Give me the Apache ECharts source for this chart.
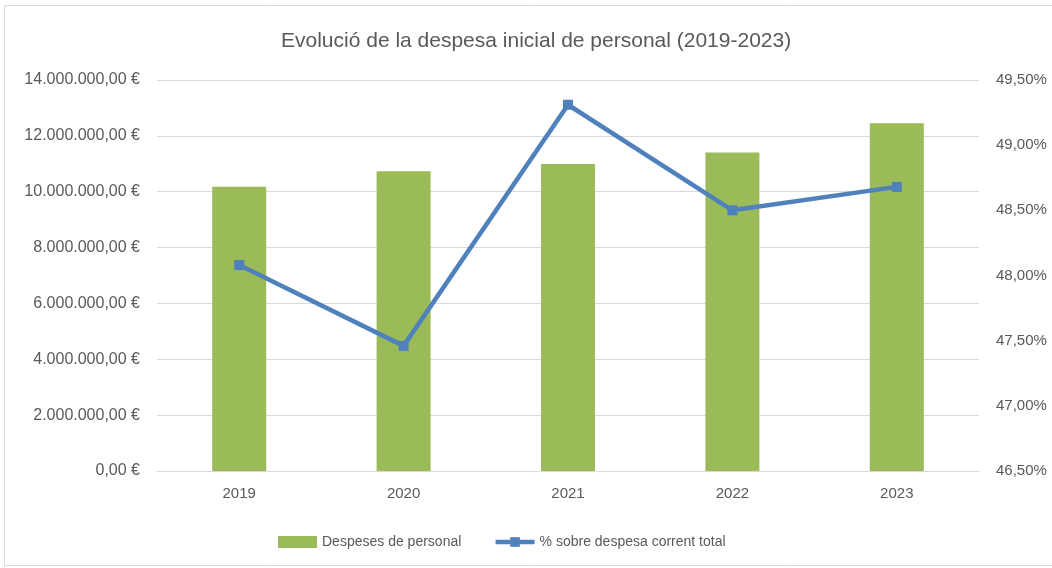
<!DOCTYPE html>
<html>
<head>
<meta charset="utf-8">
<script src="https://cdn.jsdelivr.net/npm/echarts@6/dist/echarts.min.js"></script>
<style>
  html, body { margin: 0; padding: 0; background: #fff; }
  #chart { width: 1052px; height: 568px; }
</style>
</head>
<body>
<div id="chart"></div>
<script>
// dades
const years = ['2019', '2020', '2021', '2022', '2023']
const despeses = [10180000, 10730000, 10990000, 11400000, 12450000]   // €
const percent = [48.08, 47.46, 49.31, 48.50, 48.68]                 // %
const labelColor = '#595959'

// 14000000 -> "14.000.000,00 €"
function euro(v) {
  const s = Math.round(v).toString().replace(/\B(?=(\d{3})+(?!\d))/g, '.')
  return s + ',00 €'
}
function pct(v) {
  return v.toFixed(2).replace('.', ',') + '%'
}

const chart = echarts.init(document.getElementById('chart'))
chart.setOption({
  animation: false,
  textStyle: { fontFamily: 'Liberation Sans, Arial, sans-serif' },
  title: {
    text: 'Evolució de la despesa inicial de personal (2019-2023)',
    left: 276,
    top: 26,
    textStyle: { fontSize: 21, fontWeight: 'normal', color: labelColor }
  },
  graphic: [{
    type: 'rect',
    shape: { x: 4.5, y: 5.5, width: 1060, height: 560 },
    style: { fill: 'none', stroke: '#d9d9d9', lineWidth: 1 },
    silent: true
  }],
  legend: {
    top: 530,
    left: 273,
    itemGap: 32,
    textStyle: { fontSize: 14, color: labelColor },
    data: [
      { name: 'Despeses de personal', icon: 'rect', itemStyle: { color: '#9bbb59' } },
      { name: '% sobre despesa corrent total', lineStyle: { width: 4.5, color: '#4f81bd' } }
    ],
    itemWidth: 39,
    itemHeight: 12
  },
  grid: { left: 157, right: 73, top: 80, bottom: 97, containLabel: false },
  xAxis: {
    type: 'category',
    data: years,
    axisLine: { lineStyle: { color: '#d9d9d9', width: 1 } },
    axisTick: { show: false },
    axisLabel: { color: labelColor, fontSize: 15, margin: 15 }
  },
  yAxis: [{
    type: 'value',
    min: 0,
    max: 14000000,
    interval: 2000000,
    axisLine: { show: false },
    axisTick: { show: false },
    splitLine: { lineStyle: { color: '#d9d9d9', width: 1 } },
    axisLabel: { color: labelColor, fontSize: 16, margin: 17, formatter: euro }
  }, {
    type: 'value',
    min: 46.5,
    max: 49.5,
    interval: 0.5,
    axisLine: { show: false },
    axisTick: { show: false },
    splitLine: { show: false },
    axisLabel: { color: labelColor, fontSize: 15, margin: 17, formatter: pct }
  }],
  series: [{
    name: 'Despeses de personal',
    type: 'bar',
    data: despeses,
    barWidth: 54,
    itemStyle: { color: '#9bbb59' }
  }, {
    name: '% sobre despesa corrent total',
    type: 'line',
    yAxisIndex: 1,
    data: percent,
    symbol: 'rect',
    symbolSize: 10,
    lineStyle: { color: '#4f81bd', width: 4.5 },
    itemStyle: { color: '#4f81bd' }
  }]
})
</script>
</body>
</html>
